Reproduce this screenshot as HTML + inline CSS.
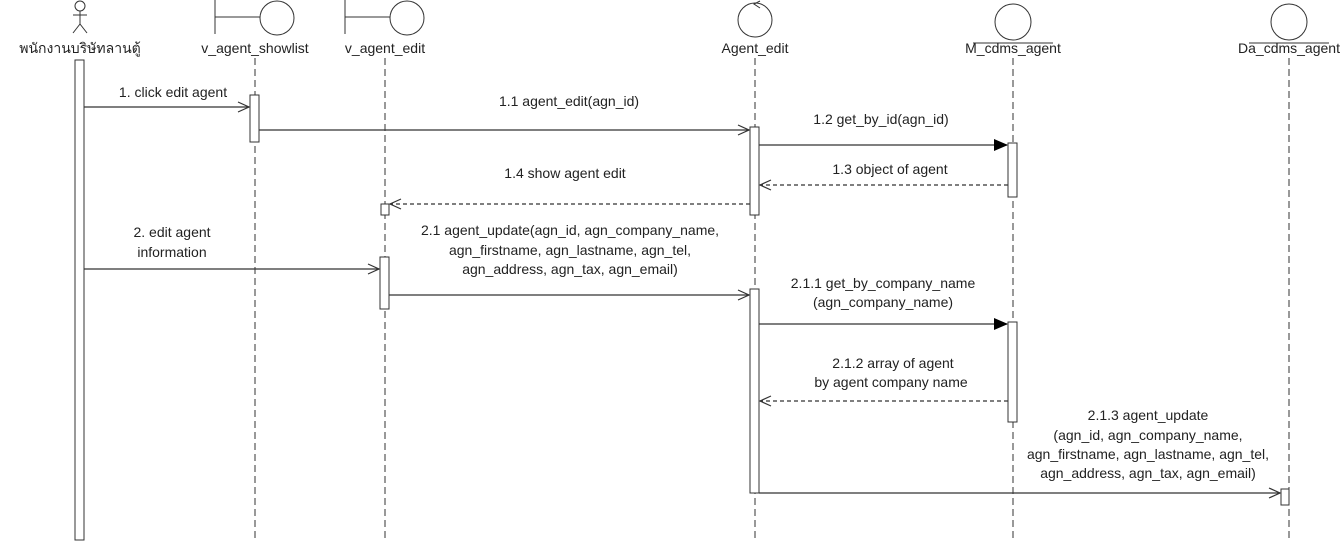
<!DOCTYPE html>
<html><head><meta charset="utf-8"><style>
html,body{margin:0;padding:0;background:#fff;}
svg text{font-family:"Liberation Sans","Noto Sans CJK SC",sans-serif;font-size:14px;fill:#222;}
</style></head><body>
<svg width="1343" height="542" viewBox="0 0 1343 542" xmlns="http://www.w3.org/2000/svg">
<defs>
<marker id="open" markerWidth="14" markerHeight="12" refX="12" refY="6" orient="auto" markerUnits="userSpaceOnUse"><path d="M1,1 L12,6 L1,11" fill="none" stroke="#333" stroke-width="1.2"/></marker>
<marker id="fill" markerWidth="14" markerHeight="12" refX="13" refY="6" orient="auto" markerUnits="userSpaceOnUse"><path d="M0,0 L14,6 L0,12 Z" fill="#000"/></marker>
</defs>
<g stroke="#333" stroke-width="1" fill="none">
<line x1="255" y1="58" x2="255" y2="540" stroke-dasharray="7,4"/>
<line x1="385" y1="58" x2="385" y2="540" stroke-dasharray="7,4"/>
<line x1="755" y1="58" x2="755" y2="540" stroke-dasharray="7,4"/>
<line x1="1013" y1="58" x2="1013" y2="540" stroke-dasharray="7,4"/>
<line x1="1289" y1="58" x2="1289" y2="540" stroke-dasharray="7,4"/>
<circle cx="80" cy="6" r="5"/>
<line x1="80" y1="11" x2="80" y2="24"/><line x1="73" y1="15" x2="87" y2="15"/>
<line x1="80" y1="24" x2="73" y2="33"/><line x1="80" y1="24" x2="87" y2="33"/>
<line x1="215" y1="0" x2="215" y2="34"/><line x1="215" y1="17" x2="260" y2="17"/><circle cx="277" cy="18" r="17"/>
<line x1="345" y1="0" x2="345" y2="34"/><line x1="345" y1="17" x2="390" y2="17"/><circle cx="407" cy="18" r="17"/>
<circle cx="755" cy="20" r="17"/><path d="M760,1 L754,4 L760,8"/>
<circle cx="1013" cy="22" r="18"/><line x1="973" y1="43" x2="1053" y2="43"/>
<circle cx="1289" cy="22" r="18"/><line x1="1249" y1="43" x2="1329" y2="43"/>
</g>
<g text-anchor="middle">
<text x="80" y="53">พนักงานบริษัทลานตู้</text>
<text x="255" y="53">v_agent_showlist</text>
<text x="385" y="53">v_agent_edit</text>
<text x="755" y="53">Agent_edit</text>
<text x="1013" y="53">M_cdms_agent</text>
<text x="1289" y="53">Da_cdms_agent</text>
</g>
<g stroke="#333" stroke-width="1" fill="#fff">
<rect x="75" y="60" width="9" height="480"/>
<rect x="250" y="95" width="9" height="47"/>
<rect x="750" y="127" width="9" height="88"/>
<rect x="1008" y="143" width="9" height="54"/>
<rect x="381" y="204" width="8" height="11"/>
<rect x="380" y="257" width="9" height="52"/>
<rect x="750" y="289" width="9" height="204"/>
<rect x="1008" y="322" width="9" height="100"/>
<rect x="1281" y="489" width="8" height="16"/>
</g>
<g stroke="#333" stroke-width="1.2" fill="none">
<line x1="84" y1="107" x2="249" y2="107" marker-end="url(#open)"/>
<line x1="259" y1="130" x2="749" y2="130" marker-end="url(#open)"/>
<line x1="759" y1="145" x2="1007" y2="145" marker-end="url(#fill)"/>
<line x1="1008" y1="185" x2="760" y2="185" stroke-dasharray="4,3" marker-end="url(#open)"/>
<line x1="750" y1="204" x2="390" y2="204" stroke-dasharray="4,3" marker-end="url(#open)"/>
<line x1="84" y1="269" x2="379" y2="269" marker-end="url(#open)"/>
<line x1="389" y1="295" x2="749" y2="295" marker-end="url(#open)"/>
<line x1="759" y1="324" x2="1007" y2="324" marker-end="url(#fill)"/>
<line x1="1008" y1="401" x2="760" y2="401" stroke-dasharray="4,3" marker-end="url(#open)"/>
<line x1="759" y1="493" x2="1280" y2="493" marker-end="url(#open)"/>
</g>
<g text-anchor="middle">
<text x="173" y="97">1. click edit agent</text>
<text x="569" y="106">1.1 agent_edit(agn_id)</text>
<text x="881" y="124">1.2 get_by_id(agn_id)</text>
<text x="890" y="174">1.3 object of agent</text>
<text x="565" y="178">1.4 show agent edit</text>
<text x="172" y="237">2. edit agent</text>
<text x="172" y="257">information</text>
<text x="570" y="235">2.1 agent_update(agn_id, agn_company_name,</text>
<text x="570" y="255">agn_firstname, agn_lastname, agn_tel,</text>
<text x="570" y="274">agn_address, agn_tax, agn_email)</text>
<text x="883" y="288">2.1.1 get_by_company_name</text>
<text x="883" y="307">(agn_company_name)</text>
<text x="893" y="368">2.1.2 array of agent</text>
<text x="891" y="387">by agent company name</text>
<text x="1148" y="420">2.1.3 agent_update</text>
<text x="1148" y="440">(agn_id, agn_company_name,</text>
<text x="1148" y="459">agn_firstname, agn_lastname, agn_tel,</text>
<text x="1148" y="478">agn_address, agn_tax, agn_email)</text>
</g>
</svg>
</body></html>
